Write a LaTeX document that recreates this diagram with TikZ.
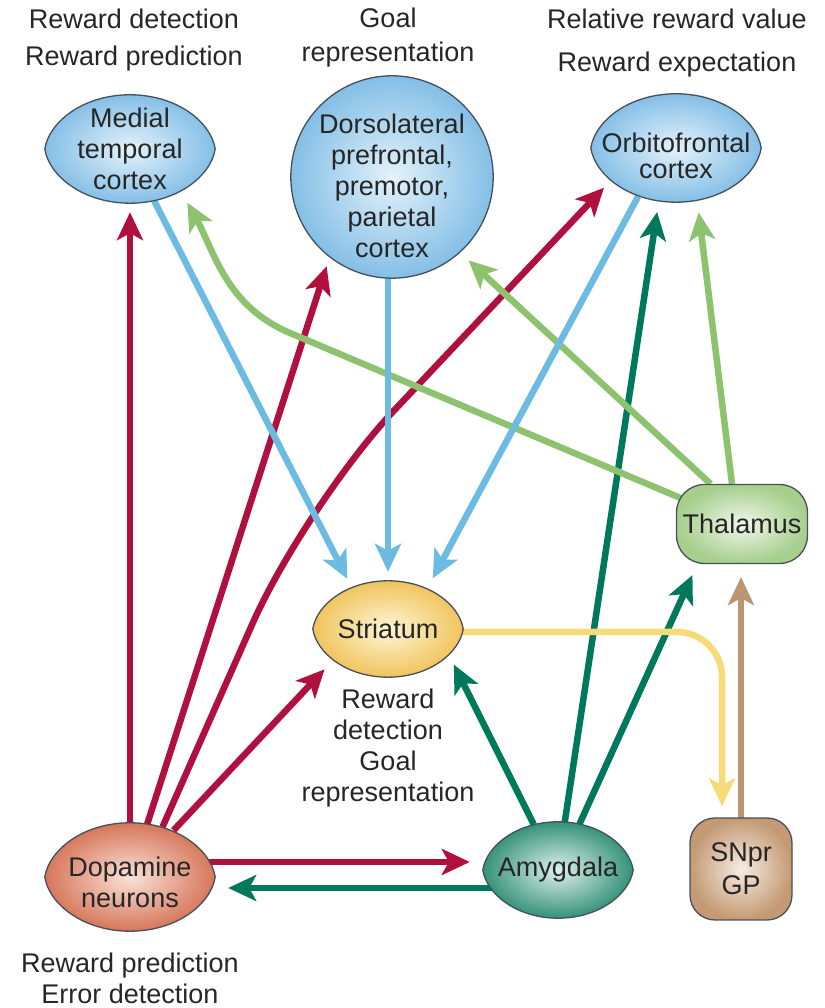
\documentclass[tikz,border=0pt]{standalone}
\usepackage{fontspec}
\setmainfont{Liberation Sans}
\usetikzlibrary{arrows.meta,calc,positioning,shapes.geometric}

\definecolor{DopaRed}{RGB}{176,16,62}
\definecolor{AmyTeal}{RGB}{0,120,92}
\definecolor{ThalGreen}{RGB}{141,194,110}
\definecolor{CortexBlue}{RGB}{108,187,226}
\definecolor{StrYellow}{RGB}{247,219,119}
\definecolor{PallBrown}{RGB}{188,149,113}
\definecolor{Outline}{RGB}{70,80,90}
\definecolor{BlueIn}{RGB}{228,242,251}
\definecolor{BlueOut}{RGB}{132,191,230}
\definecolor{StrIn}{RGB}{255,246,214}
\definecolor{StrOut}{RGB}{240,196,92}
\definecolor{DopIn}{RGB}{250,226,216}
\definecolor{DopOut}{RGB}{214,118,90}
\definecolor{AmyIn}{RGB}{222,240,235}
\definecolor{AmyOut}{RGB}{52,145,120}
\definecolor{ThalIn}{RGB}{240,247,234}
\definecolor{ThalOut}{RGB}{166,206,140}
\definecolor{SnIn}{RGB}{246,236,226}
\definecolor{SnOut}{RGB}{196,154,116}

\pgfdeclarelayer{edges}
\pgfdeclarelayer{shapes}
\pgfsetlayers{edges,shapes,main}

% almond shaped region drawn round an ellipse node
\newcommand{\lensfill}[3]{%
  \shade[inner color=#3, outer color=#2, draw=Outline, line width=1.3pt]
    let \p1=(#1.center), \p2=(#1.east), \p3=(#1.north),
        \n1={\x2-\x1}, \n2={\y3-\y1} in
    (\x1-\n1,\y1)
    .. controls (\x1-0.95*\n1,\y1+0.5*\n2) and (\x1-0.55*\n1,\y1+\n2) .. (\x1,\y1+\n2)
    .. controls (\x1+0.55*\n1,\y1+\n2) and (\x1+0.95*\n1,\y1+0.5*\n2) .. (\x1+\n1,\y1)
    .. controls (\x1+0.95*\n1,\y1-0.5*\n2) and (\x1+0.55*\n1,\y1-\n2) .. (\x1,\y1-\n2)
    .. controls (\x1-0.55*\n1,\y1-\n2) and (\x1-0.95*\n1,\y1-0.5*\n2) .. cycle;}

\tikzset{
  lensnode/.style={ellipse, inner sep=-60pt, minimum width=170pt, minimum height=108pt, align=center},
  ballnode/.style={circle, inner sep=-60pt, minimum size=202pt, align=center},
  boxnode/.style={rectangle, rounded corners=28pt, draw=Outline, line width=1.3pt, shade, align=center, inner sep=2pt},
  capt/.style={align=center, inner sep=0pt},
  proj/.style={line width=6.5pt, -{Stealth[length=28pt,width=26pt,inset=7pt]}, shorten >=10pt},
}

\begin{document}
\begin{tikzpicture}[x=1pt, y=1pt, font=\fontsize{27}{31}\selectfont, text=black!85]
	\useasboundingbox (0,0) rectangle (824,1008);
	
	% regions
	\node[lensnode] (mtc) at (130,859) {Medial\\temporal\\cortex};
	\node[ballnode] (dlpfc) at (392,831) {\rule{0pt}{38pt}Dorsolateral\\prefrontal,\\premotor,\\parietal\\cortex};
	\node[lensnode] (ofc) at (676,860) {\rule{0pt}{36pt}Orbitofrontal\\[-5pt]cortex};
	\node[boxnode, inner color=ThalIn, outer color=ThalOut, minimum width=131pt, minimum height=79pt] (thal) at (742,484) {Thalamus};
	\node[lensnode, minimum width=150pt, minimum height=96pt] (str) at (388,379) {Striatum};
	\node[lensnode] (dop) at (130,131) {\rule{0pt}{30pt}Dopamine\\neurons};
	\node[lensnode, minimum width=150pt, minimum height=96pt] (amy) at (558,138) {Amygdala};
	\node[boxnode, rounded corners=25pt, inner color=SnIn, outer color=SnOut, minimum width=102pt, minimum height=102pt] (snpr) at (741,139) {SNpr\\[2pt]GP};
	
	% functions
	\node[capt] (mtccap) at (134,968) {Reward detection\\[6pt]Reward prediction};
	\node[capt] (dlpfccap) at (388,970) {Goal\\[3pt]representation};
	\node[capt] (ofccap) at (677,965) {Relative reward value\\[12pt]Reward expectation};
	\node[capt, below=12pt of str] (strcap) {Reward\\detection\\Goal\\representation};
	\node[capt, below=22pt of dop] (dopcap) {Reward prediction\\Error detection};
	
	\begin{pgfonlayer}{shapes}
		\lensfill{mtc}{BlueOut}{BlueIn}
		\lensfill{ofc}{BlueOut}{BlueIn}
		\lensfill{str}{StrOut}{StrIn}
		\lensfill{dop}{DopOut}{DopIn}
		\lensfill{amy}{AmyOut}{AmyIn}
		\shade[inner color=BlueIn, outer color=BlueOut, draw=Outline, line width=1.3pt]
			let \p1=(dlpfc.center), \p2=(dlpfc.east), \n1={\x2-\x1} in (\p1) circle[radius=\n1];
	\end{pgfonlayer}
	
	\coordinate (redturn) at (305,503);
	\coordinate (bend) at (290,675);
	
	\begin{pgfonlayer}{edges}
		% dopamine neurons
		\draw[proj, DopaRed, shorten >=9pt] (dop.north) -- (mtc.south);
		\draw[proj, DopaRed] (dop.72) -- (dlpfc.232);
		\draw[proj, DopaRed, shorten >=8pt, rounded corners=130pt] (dop.57) -- (redturn) -- (ofc.207);
		\draw[proj, DopaRed, shorten >=11pt] (dop.47) -- (str.210);
		\draw[proj, DopaRed, shorten >=13pt] ([yshift=15pt]dop.center) -- ([yshift=15pt]dop.center -| amy.west);
		% amygdala
		\draw[proj, AmyTeal, shorten >=13pt] ([yshift=-18pt]amy.center) -- ([yshift=-18pt]amy.center -| dop.east);
		\draw[proj, AmyTeal, shorten >=9pt] (amy.118) -- (str.-24);
		\draw[proj, AmyTeal, shorten >=11pt] (amy.82) -- (ofc.252);
		\draw[proj, AmyTeal, shorten >=12pt] (amy.65) -- (thal.222);
		% thalamus
		\draw[proj, ThalGreen, shorten >=12pt] (thal.center) -- (bend) to[out=157, in=-61] (mtc.-40);
		\draw[proj, ThalGreen, shorten >=12pt] (thal.128) -- (dlpfc.-48);
		\draw[proj, ThalGreen, shorten >=12pt] (thal.104) -- (ofc.-68);
		% cortex to striatum
		\draw[proj, CortexBlue, shorten >=9pt] (mtc.-65) -- (str.131);
		\draw[proj, CortexBlue, shorten >=9pt] (dlpfc.south -| str.north) -- (str.north);
		\draw[proj, CortexBlue, shorten >=11pt] (ofc.232) -- (str.46);
		% loop through the pallidum
		\draw[proj, StrYellow, shorten >=11pt, rounded corners=45pt] ([yshift=-3pt]str.center) -| ([xshift=-19pt]snpr.north);
		\draw[proj, PallBrown, shorten >=13pt] (snpr.center) -- (snpr.center |- thal.south);
	\end{pgfonlayer}
\end{tikzpicture}
\end{document}
